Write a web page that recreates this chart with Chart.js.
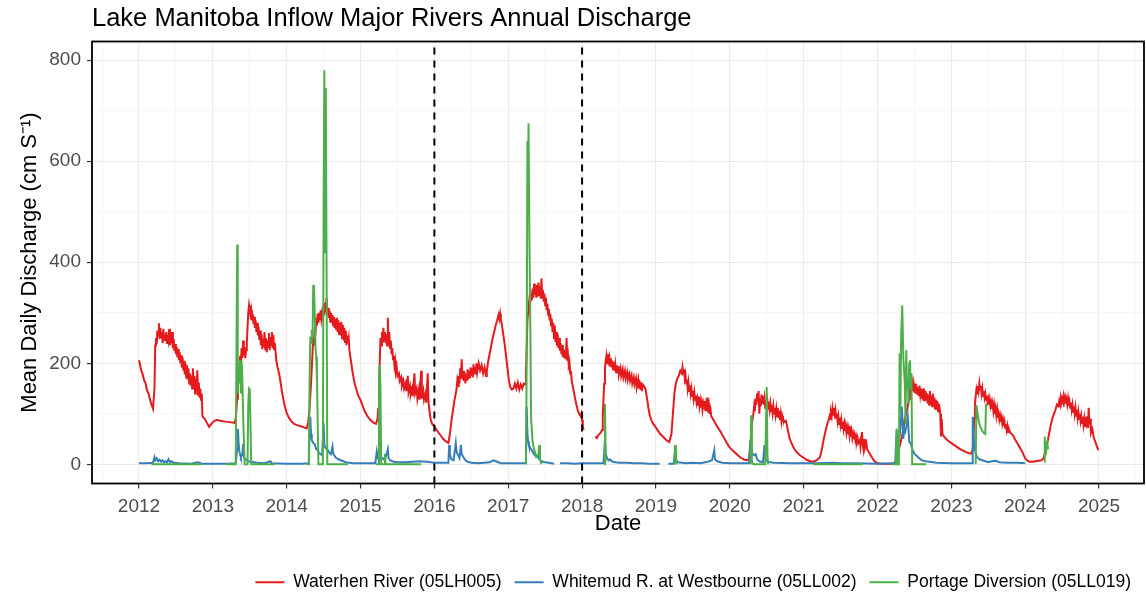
<!DOCTYPE html>
<html>
<head>
<meta charset="utf-8">
<title>Lake Manitoba Inflow Major Rivers Annual Discharge</title>
<script src="https://cdn.jsdelivr.net/npm/chart.js@4.4.1/dist/chart.umd.min.js"></script>
<style>
  html, body { margin: 0; padding: 0; background: #ffffff; }
  #wrap { width: 1146px; height: 595px; }
</style>
</head>
<body>
<div id="wrap"><canvas id="chart" width="1146" height="595"></canvas></div>
<script>
// Mean daily discharge, [decimal year, value]; null marks missing records.
const waterhen = [
  [2012.00,206],[2012.01,200],[2012.03,186],[2012.05,178],[2012.07,166],[2012.09,160],[2012.11,146],[2012.13,140],[2012.15,128],[2012.17,118],[2012.19,110],[2012.21,150],[2012.22,235],[2012.23,250],[2012.24,238],[2012.25,265],[2012.26,255],[2012.27,279],[2012.28,248],[2012.29,270],[2012.30,252],[2012.31,262],[2012.32,240],[2012.33,268],[2012.34,246],[2012.35,258],[2012.36,244],[2012.37,262],[2012.38,240],[2012.39,256],[2012.40,246],[2012.41,268],[2012.42,236],[2012.43,252],[2012.44,240],[2012.45,262],[2012.46,230],[2012.47,248],[2012.48,224],[2012.49,238],[2012.50,218],[2012.51,232],[2012.52,212],[2012.53,228],[2012.54,206],[2012.55,222],[2012.56,200],[2012.57,216],[2012.58,192],[2012.59,212],[2012.60,186],[2012.61,205],[2012.62,178],[2012.63,200],[2012.64,172],[2012.65,196],[2012.66,168],[2012.67,190],[2012.68,160],[2012.69,180],[2012.70,156],[2012.71,176],[2012.72,150],[2012.73,190],[2012.74,148],[2012.75,175],[2012.76,140],[2012.77,170],[2012.78,145],[2012.79,186],[2012.80,138],[2012.81,162],[2012.82,132],[2012.83,150],[2012.84,128],[2012.85,140],[2012.86,95],[2012.89,90],[2012.92,82],[2012.95,74],[2012.98,80],[2013.02,86],[2013.06,88],[2013.10,86],[2013.15,85],[2013.20,84],[2013.25,83],[2013.29,82],
  [2013.31,90],[2013.33,130],[2013.34,170],[2013.35,200],[2013.36,185],[2013.37,215],[2013.38,200],[2013.39,230],[2013.40,210],[2013.41,245],[2013.42,215],[2013.43,232],[2013.44,210],[2013.45,226],[2013.46,240],[2013.47,270],[2013.48,300],[2013.49,315],[2013.50,305],[2013.51,296],[2013.52,305],[2013.53,285],[2013.54,298],[2013.55,278],[2013.56,292],[2013.57,270],[2013.58,285],[2013.59,262],[2013.60,280],[2013.61,255],[2013.62,272],[2013.63,246],[2013.64,265],[2013.65,236],[2013.66,258],[2013.67,228],[2013.68,248],[2013.69,232],[2013.70,262],[2013.71,228],[2013.72,250],[2013.73,222],[2013.74,246],[2013.75,232],[2013.76,260],[2013.77,226],[2013.78,252],[2013.79,236],[2013.80,262],[2013.81,230],[2013.82,256],[2013.83,228],[2013.84,240],[2013.86,205],[2013.88,190],[2013.90,178],[2013.92,160],[2013.94,140],[2013.96,125],[2013.98,112],[2014.00,102],[2014.03,92],[2014.06,86],[2014.10,80],[2014.15,77],[2014.20,75],[2014.25,72],[2014.27,71],
  [2014.29,82],[2014.31,110],[2014.33,160],[2014.35,220],[2014.36,250],[2014.37,235],[2014.38,270],[2014.39,255],[2014.40,290],[2014.41,275],[2014.42,298],[2014.43,280],[2014.44,300],[2014.45,285],[2014.46,305],[2014.47,288],[2014.48,300],[2014.49,285],[2014.50,310],[2014.51,295],[2014.52,320],[2014.53,300],[2014.54,329],[2014.55,295],[2014.56,310],[2014.57,290],[2014.58,305],[2014.59,282],[2014.60,300],[2014.61,280],[2014.62,296],[2014.63,275],[2014.64,292],[2014.65,270],[2014.66,288],[2014.67,268],[2014.68,290],[2014.69,262],[2014.70,285],[2014.71,258],[2014.72,280],[2014.73,255],[2014.74,282],[2014.75,250],[2014.76,276],[2014.77,245],[2014.78,270],[2014.79,242],[2014.80,265],[2014.81,236],[2014.82,255],[2014.83,240],[2014.84,250],[2014.85,225],[2014.87,205],[2014.89,185],[2014.91,168],[2014.93,155],[2014.95,145],[2014.97,136],[2015.00,127],[2015.03,115],[2015.06,104],[2015.09,96],[2015.13,88],[2015.17,83],[2015.21,80],
  [2015.23,90],[2015.24,110],[2015.25,150],[2015.26,200],[2015.27,250],[2015.28,235],[2015.29,262],[2015.30,240],[2015.31,270],[2015.32,245],[2015.33,262],[2015.34,240],[2015.35,258],[2015.36,235],[2015.37,290],[2015.38,240],[2015.39,262],[2015.40,230],[2015.41,245],[2015.42,218],[2015.43,230],[2015.44,208],[2015.45,215],[2015.46,195],[2015.47,205],[2015.48,185],[2015.49,192],[2015.50,175],[2015.52,180],[2015.53,165],[2015.55,172],[2015.56,155],[2015.58,165],[2015.59,150],[2015.61,160],[2015.62,145],[2015.64,175],[2015.65,142],[2015.67,155],[2015.68,138],[2015.70,150],[2015.71,135],[2015.73,180],[2015.74,140],[2015.76,150],[2015.77,130],[2015.79,148],[2015.80,128],[2015.82,185],[2015.83,130],[2015.85,145],[2015.86,128],[2015.88,140],[2015.89,122],[2015.91,180],[2015.92,125],[2015.93,110],[2015.95,88],[2015.97,80],[2016.00,75],[2016.03,68],[2016.06,62],[2016.09,56],[2016.12,50],[2016.15,46],[2016.19,42],
  [2016.21,60],[2016.23,85],[2016.25,105],[2016.27,125],[2016.29,140],[2016.30,148],[2016.31,165],[2016.32,155],[2016.33,175],[2016.34,160],[2016.35,190],[2016.36,170],[2016.37,208],[2016.38,168],[2016.39,185],[2016.40,165],[2016.41,182],[2016.42,160],[2016.43,178],[2016.44,165],[2016.45,188],[2016.46,168],[2016.47,185],[2016.48,170],[2016.49,192],[2016.50,175],[2016.51,190],[2016.52,172],[2016.53,198],[2016.54,180],[2016.55,192],[2016.56,178],[2016.57,200],[2016.58,182],[2016.60,200],[2016.62,186],[2016.64,196],[2016.66,180],[2016.68,192],[2016.70,175],[2016.71,185],[2016.73,205],[2016.75,220],[2016.77,235],[2016.79,250],[2016.81,262],[2016.83,275],[2016.85,285],[2016.87,296],[2016.88,288],[2016.89,298],[2016.90,286],[2016.91,280],[2016.93,260],[2016.95,240],[2016.97,215],[2016.99,190],[2017.01,165],[2017.03,152],[2017.05,148],[2017.07,150],[2017.09,160],[2017.11,150],[2017.13,162],[2017.15,148],[2017.17,158],[2017.19,150],[2017.21,160],[2017.23,158],[2017.24,180],
  [2017.25,230],[2017.26,285],[2017.27,300],[2017.28,318],[2017.29,332],[2017.30,320],[2017.31,340],[2017.32,325],[2017.33,348],[2017.34,330],[2017.35,358],[2017.36,336],[2017.37,350],[2017.38,330],[2017.39,355],[2017.40,332],[2017.41,360],[2017.42,335],[2017.43,352],[2017.44,328],[2017.45,368],[2017.46,330],[2017.47,345],[2017.48,322],[2017.49,338],[2017.50,315],[2017.51,330],[2017.52,305],[2017.53,318],[2017.54,296],[2017.55,308],[2017.56,285],[2017.57,298],[2017.58,275],[2017.59,288],[2017.60,262],[2017.61,280],[2017.62,250],[2017.63,275],[2017.64,242],[2017.65,262],[2017.66,235],[2017.67,258],[2017.68,230],[2017.69,250],[2017.70,225],[2017.71,240],[2017.72,218],[2017.73,236],[2017.74,212],[2017.75,228],[2017.76,210],[2017.77,225],[2017.78,208],[2017.79,250],[2017.80,205],[2017.81,215],[2017.82,195],[2017.83,200],[2017.84,180],[2017.85,185],[2017.86,165],[2017.88,150],[2017.90,135],[2017.92,120],[2017.94,108],[2017.96,100],[2017.98,95],[2017.99,100],[2018.00,88],[2018.01,75],[2018.02,68],[2018.10,null],
  [2018.18,55],[2018.20,52],[2018.22,58],[2018.25,62],[2018.27,68],[2018.28,95],[2018.29,130],[2018.30,160],[2018.31,190],[2018.32,205],[2018.33,215],[2018.34,200],[2018.35,218],[2018.36,205],[2018.37,212],[2018.38,195],[2018.39,210],[2018.40,192],[2018.41,205],[2018.42,188],[2018.43,202],[2018.44,185],[2018.45,198],[2018.46,182],[2018.47,196],[2018.48,180],[2018.49,194],[2018.50,178],[2018.52,190],[2018.53,175],[2018.55,188],[2018.56,172],[2018.58,185],[2018.59,170],[2018.61,182],[2018.62,168],[2018.64,178],[2018.65,165],[2018.67,176],[2018.68,160],[2018.70,172],[2018.71,158],[2018.73,170],[2018.74,152],[2018.76,168],[2018.77,150],[2018.78,165],[2018.79,148],[2018.80,162],[2018.81,145],[2018.82,158],[2018.84,155],[2018.86,148],[2018.88,130],[2018.90,110],[2018.92,95],[2018.94,87],[2018.96,81],[2018.99,75],[2019.02,68],[2019.06,60],[2019.10,54],[2019.14,48],[2019.18,44],
  [2019.21,60],[2019.23,100],[2019.25,140],[2019.27,160],[2019.29,170],[2019.31,175],[2019.33,185],[2019.35,180],[2019.36,192],[2019.37,180],[2019.38,188],[2019.39,170],[2019.40,178],[2019.41,160],[2019.42,168],[2019.43,150],[2019.44,162],[2019.45,145],[2019.46,156],[2019.47,140],[2019.48,150],[2019.49,135],[2019.50,145],[2019.51,130],[2019.52,142],[2019.53,128],[2019.54,136],[2019.55,122],[2019.56,130],[2019.57,118],[2019.58,134],[2019.59,115],[2019.60,125],[2019.61,112],[2019.62,122],[2019.63,108],[2019.64,120],[2019.65,110],[2019.66,125],[2019.67,105],[2019.68,118],[2019.69,106],[2019.70,132],[2019.71,102],[2019.72,115],[2019.73,100],[2019.74,108],[2019.75,95],[2019.77,90],[2019.79,85],[2019.81,80],[2019.83,75],[2019.85,70],[2019.87,66],[2019.90,58],[2019.93,50],[2019.96,42],[2019.99,35],[2020.02,30],[2020.05,26],[2020.08,22],[2020.11,18],[2020.14,14],[2020.17,11],[2020.20,9],[2020.23,8],[2020.26,10],[2020.28,40],[2020.30,80],[2020.32,100],
  [2020.33,115],[2020.34,105],[2020.35,130],[2020.36,118],[2020.37,140],[2020.38,125],[2020.39,145],[2020.40,100],[2020.41,130],[2020.42,115],[2020.43,138],[2020.44,120],[2020.45,135],[2020.46,118],[2020.47,130],[2020.48,112],[2020.49,128],[2020.50,115],[2020.51,125],[2020.52,110],[2020.53,124],[2020.54,108],[2020.55,120],[2020.56,105],[2020.57,118],[2020.58,102],[2020.59,115],[2020.60,100],[2020.61,112],[2020.62,98],[2020.63,110],[2020.64,95],[2020.65,112],[2020.66,92],[2020.67,106],[2020.68,88],[2020.69,100],[2020.70,85],[2020.71,96],[2020.72,90],[2020.74,84],[2020.76,86],[2020.77,80],[2020.79,65],[2020.81,52],[2020.83,44],[2020.86,34],[2020.90,25],[2020.95,18],[2020.99,14],[2021.04,9],[2021.09,6],[2021.13,5],[2021.18,8],[2021.22,14],
  [2021.24,25],[2021.26,40],[2021.28,55],[2021.30,68],[2021.32,80],[2021.34,88],[2021.35,95],[2021.36,90],[2021.37,102],[2021.38,95],[2021.39,110],[2021.40,98],[2021.41,112],[2021.42,100],[2021.43,108],[2021.44,92],[2021.45,100],[2021.46,85],[2021.47,95],[2021.48,80],[2021.49,92],[2021.50,78],[2021.51,88],[2021.52,72],[2021.53,84],[2021.54,70],[2021.55,80],[2021.56,66],[2021.57,76],[2021.58,62],[2021.59,72],[2021.60,60],[2021.61,70],[2021.62,58],[2021.63,75],[2021.64,55],[2021.65,65],[2021.66,52],[2021.67,60],[2021.68,50],[2021.69,58],[2021.70,48],[2021.71,55],[2021.72,45],[2021.73,52],[2021.74,42],[2021.76,48],[2021.77,35],[2021.79,64],[2021.80,40],[2021.81,30],[2021.82,50],[2021.83,32],[2021.85,42],[2021.86,30],[2021.88,25],[2021.90,20],[2021.92,15],[2021.94,10],[2021.96,6],[2021.99,3],[2022.03,1],[2022.08,1],[2022.13,1],[2022.18,1],[2022.22,1],[2022.25,5],[2022.27,15],[2022.29,30],
  [2022.31,41],[2022.33,54],[2022.35,70],[2022.37,90],[2022.39,100],[2022.41,115],[2022.43,130],[2022.44,140],[2022.45,165],[2022.46,150],[2022.47,160],[2022.48,145],[2022.49,158],[2022.50,142],[2022.51,160],[2022.52,140],[2022.53,155],[2022.54,138],[2022.55,152],[2022.56,135],[2022.57,156],[2022.58,138],[2022.59,150],[2022.60,130],[2022.61,148],[2022.62,128],[2022.63,150],[2022.64,125],[2022.65,145],[2022.66,128],[2022.67,140],[2022.68,120],[2022.69,138],[2022.70,118],[2022.71,145],[2022.72,120],[2022.73,136],[2022.74,115],[2022.75,140],[2022.76,118],[2022.77,132],[2022.78,110],[2022.79,128],[2022.80,108],[2022.81,125],[2022.82,105],[2022.83,120],[2022.84,112],[2022.85,100],[2022.86,55],[2022.87,90],[2022.88,60],[2022.90,55],[2022.93,50],[2022.96,46],[2023.00,42],[2023.04,38],[2023.08,34],[2023.12,30],[2023.16,27],[2023.20,24],[2023.24,22],[2023.27,21],[2023.29,30],
  [2023.30,54],[2023.31,90],[2023.32,120],[2023.33,135],[2023.34,148],[2023.35,140],[2023.36,155],[2023.37,145],[2023.38,160],[2023.39,148],[2023.40,155],[2023.41,140],[2023.42,150],[2023.43,135],[2023.44,145],[2023.45,132],[2023.46,140],[2023.47,128],[2023.48,136],[2023.49,124],[2023.50,130],[2023.51,118],[2023.52,128],[2023.53,115],[2023.54,122],[2023.55,110],[2023.56,120],[2023.57,105],[2023.58,116],[2023.59,100],[2023.60,110],[2023.61,96],[2023.62,108],[2023.63,92],[2023.64,100],[2023.65,88],[2023.66,96],[2023.67,84],[2023.68,92],[2023.69,80],[2023.70,88],[2023.71,76],[2023.72,84],[2023.73,72],[2023.74,80],[2023.75,68],[2023.76,76],[2023.77,64],[2023.78,70],[2023.80,62],[2023.82,60],[2023.84,56],[2023.86,50],[2023.88,45],[2023.90,40],[2023.92,35],[2023.94,30],[2023.96,25],[2023.98,18],[2024.00,12],[2024.03,7],[2024.06,5],[2024.10,5],[2024.14,6],[2024.18,7],[2024.22,8],[2024.25,12],[2024.27,25],
  [2024.29,34],[2024.31,50],[2024.33,65],[2024.35,80],[2024.37,92],[2024.39,100],[2024.41,108],[2024.43,118],[2024.45,115],[2024.46,125],[2024.47,120],[2024.48,132],[2024.49,122],[2024.50,130],[2024.51,125],[2024.52,135],[2024.53,124],[2024.54,132],[2024.55,120],[2024.56,128],[2024.57,118],[2024.58,130],[2024.59,116],[2024.60,124],[2024.61,112],[2024.62,122],[2024.63,108],[2024.64,118],[2024.65,104],[2024.66,115],[2024.67,100],[2024.68,112],[2024.69,96],[2024.70,108],[2024.71,92],[2024.72,104],[2024.73,90],[2024.74,100],[2024.75,86],[2024.76,96],[2024.77,82],[2024.78,94],[2024.79,78],[2024.80,90],[2024.81,74],[2024.82,86],[2024.83,80],[2024.84,95],[2024.85,72],[2024.86,112],[2024.87,80],[2024.88,90],[2024.89,62],[2024.91,70],[2024.93,52],[2024.95,45],[2024.97,36],[2024.99,28]
];

const whitemud = [
  [2012.00,2],[2012.10,2],[2012.19,3],[2012.21,14],[2012.22,8],[2012.24,12],[2012.26,6],[2012.28,9],[2012.30,5],[2012.32,8],[2012.34,4],[2012.36,6],[2012.38,4],[2012.40,10],[2012.42,4],[2012.44,6],[2012.47,3],[2012.55,2],[2012.70,1],[2012.80,4],[2012.85,1],[2013.00,1],[2013.20,1],[2013.31,2],
  [2013.33,30],[2013.34,70],[2013.35,40],[2013.36,25],[2013.37,20],[2013.38,14],[2013.40,20],[2013.41,40],[2013.42,15],[2013.44,10],[2013.46,8],[2013.48,6],[2013.52,5],[2013.60,3],[2013.70,2],[2013.78,6],[2013.80,2],[2014.00,1],[2014.20,1],[2014.30,2],
  [2014.31,60],[2014.32,94],[2014.33,60],[2014.34,48],[2014.36,42],[2014.38,40],[2014.40,30],[2014.42,28],[2014.44,22],[2014.46,20],[2014.48,18],[2014.50,81],[2014.51,40],[2014.52,34],[2014.54,30],[2014.56,28],[2014.58,22],[2014.60,20],[2014.62,35],[2014.63,22],[2014.66,14],[2014.70,10],[2014.75,7],[2014.80,4],[2014.90,2],[2015.10,2],[2015.20,2],
  [2015.22,25],[2015.23,15],[2015.25,22],[2015.27,10],[2015.30,12],[2015.33,8],[2015.37,30],[2015.38,12],[2015.40,8],[2015.45,5],[2015.50,4],[2015.60,4],[2015.70,5],[2015.80,6],[2015.90,5],[2016.00,3],[2016.10,3],[2016.19,3],
  [2016.20,38],[2016.21,20],[2016.23,10],[2016.26,8],[2016.29,42],[2016.30,25],[2016.32,18],[2016.34,12],[2016.36,38],[2016.37,20],[2016.39,15],[2016.42,8],[2016.45,5],[2016.50,3],[2016.60,2],[2016.75,4],[2016.80,8],[2016.85,5],[2016.90,2],[2017.00,2],[2017.10,2],[2017.20,2],[2017.24,2],
  [2017.25,114],[2017.26,60],[2017.27,45],[2017.28,38],[2017.30,32],[2017.32,28],[2017.34,22],[2017.36,18],[2017.38,15],[2017.40,16],[2017.42,10],[2017.45,6],[2017.50,4],[2017.55,3],[2017.62,1],[2017.66,null],[2017.70,2],[2017.80,2],[2017.90,1],[2018.00,2],[2018.10,2],[2018.20,2],[2018.29,2],
  [2018.31,48],[2018.32,20],[2018.34,12],[2018.36,8],[2018.38,10],[2018.40,6],[2018.45,4],[2018.50,3],[2018.60,3],[2018.70,2],[2018.80,2],[2018.90,1],[2019.05,1],[2019.10,null],[2019.17,1],[2019.24,1],
  [2019.26,28],[2019.27,10],[2019.30,4],[2019.40,2],[2019.50,3],[2019.60,2],[2019.70,5],[2019.76,8],[2019.79,28],[2019.80,10],[2019.83,6],[2019.90,3],[2020.00,2],[2020.10,2],[2020.20,2],[2020.26,2],
  [2020.28,48],[2020.29,25],[2020.31,21],[2020.33,18],[2020.35,20],[2020.37,10],[2020.40,6],[2020.45,4],[2020.47,38],[2020.48,12],[2020.50,6],[2020.55,4],[2020.60,3],[2020.80,2],[2021.00,2],[2021.20,2],[2021.40,3],[2021.50,2],[2021.70,2],[2022.00,1],[2022.20,2],[2022.24,3],
  [2022.26,67],[2022.27,30],[2022.29,45],[2022.31,70],[2022.33,114],[2022.34,85],[2022.35,50],[2022.36,70],[2022.37,60],[2022.39,75],[2022.41,94],[2022.42,70],[2022.43,45],[2022.45,41],[2022.47,30],[2022.50,21],[2022.55,14],[2022.60,8],[2022.65,6],[2022.70,5],[2022.80,3],[2023.00,2],[2023.20,2],[2023.28,2],
  [2023.29,94],[2023.30,60],[2023.31,34],[2023.33,22],[2023.35,14],[2023.38,10],[2023.42,8],[2023.50,4],[2023.55,6],[2023.60,7],[2023.65,4],[2023.75,3],[2023.90,3],[2024.00,2]
];

const portage = [
  [2012.17,0],[2012.85,0],[2012.90,null],
  [2013.18,0],[2013.31,0],[2013.32,220],[2013.33,435],[2013.335,300],[2013.34,140],[2013.35,200],[2013.36,160],[2013.37,206],[2013.38,140],[2013.39,205],[2013.40,170],[2013.41,100],[2013.43,0],[2013.47,0],[2013.48,120],[2013.49,150],[2013.50,148],[2013.51,80],[2013.52,0],[2013.84,0],[2013.90,null],
  [2014.27,0],[2014.30,0],[2014.31,160],[2014.32,253],[2014.33,240],[2014.34,266],[2014.35,250],[2014.36,355],[2014.37,345],[2014.38,300],[2014.39,233],[2014.40,213],[2014.41,170],[2014.43,0],[2014.49,0],[2014.50,500],[2014.51,780],[2014.52,420],[2014.53,745],[2014.54,400],[2014.55,0],[2014.83,0],[2014.90,null],
  [2015.21,0],[2015.24,0],[2015.25,173],[2015.26,197],[2015.27,150],[2015.28,0],[2015.32,0],[2015.33,21],[2015.34,0],[2015.82,0],[2015.90,null],
  [2017.24,0],[2017.25,200],[2017.26,640],[2017.265,511],[2017.275,675],[2017.285,480],[2017.30,260],[2017.31,90],[2017.33,45],[2017.35,30],[2017.38,15],[2017.41,20],[2017.42,38],[2017.43,10],[2017.45,0],[2017.50,null],
  [2018.30,0],[2018.31,120],[2018.32,5],[2018.40,null],
  [2019.25,0],[2019.26,38],[2019.27,10],[2019.28,0],[2019.40,null],
  [2020.28,0],[2020.29,97],[2020.30,5],[2020.32,0],[2020.48,0],[2020.50,153],[2020.51,20],[2020.52,0],[2020.60,null],
  [2021.13,0],[2021.80,0],[2021.90,null],
  [2022.20,0],[2022.25,0],[2022.26,71],[2022.27,0],[2022.29,0],[2022.30,220],[2022.31,100],[2022.32,250],[2022.335,315],[2022.35,213],[2022.37,160],[2022.38,80],[2022.39,226],[2022.40,150],[2022.41,170],[2022.42,120],[2022.43,200],[2022.44,206],[2022.45,150],[2022.46,180],[2022.47,0],[2022.66,0],[2022.80,null],
  [2023.33,0],[2023.34,117],[2023.36,95],[2023.38,80],[2023.40,72],[2023.42,66],[2023.44,62],[2023.46,60],[2023.47,120],[2023.60,null],
  [2024.26,5],[2024.265,55],[2024.27,25],[2024.28,45],[2024.29,30],[2024.30,40],[2024.31,30]
];

// Reference years marked with dashed vertical lines
const markerYears = [2016, 2018];

// Axis ranges and tick labels
const xRange = [2011.364, 2025.609];
const yRange = [-38, 837];
const yearLabels = [2012, 2013, 2014, 2015, 2016, 2017, 2018, 2019, 2020, 2021, 2022, 2023, 2024, 2025];
const flowLabels = [0, 200, 400, 600, 800];

const seriesNames = ['Waterhen River (05LH005)', 'Whitemud R. at Westbourne (05LL002)', 'Portage Diversion (05LL019)'];
const seriesColors = ['#E41A1C', '#377EB8', '#4DAF4A'];

const FONT = '"Liberation Sans", Arial, Helvetica, sans-serif';
const toPoints = rows => rows.map(([x, y]) => ({ x, y }));
const isLabelledYear = v => yearLabels.some(y => Math.abs(y - v) < 1e-6);
const isLabelledFlow = v => flowLabels.some(y => Math.abs(y - v) < 1e-6);

const seriesData = [waterhen, whitemud, portage];
const datasets = seriesData.map((rows, i) => ({
  label: seriesNames[i],
  data: toPoints(rows),
  borderColor: seriesColors[i],
  backgroundColor: seriesColors[i],
  borderWidth: 2,
  pointRadius: 0,
  tension: 0,
  spanGaps: false,
  order: 3 - i
}));
markerYears.forEach(yr => {
  datasets.push({
    label: 'marker ' + yr,
    data: [{ x: yr, y: yRange[0] }, { x: yr, y: yRange[1] }],
    borderColor: '#000000',
    borderWidth: 2,
    borderDash: [7, 6],
    pointRadius: 0,
    order: 0
  });
});

// Plot title, left-aligned with the panel
const titlePlugin = {
  id: 'panelTitle',
  afterDraw(chart) {
    const ctx = chart.ctx;
    ctx.save();
    ctx.font = '25.5px ' + FONT;
    ctx.fillStyle = '#000000';
    ctx.textAlign = 'left';
    ctx.textBaseline = 'alphabetic';
    ctx.fillText('Lake Manitoba Inflow Major Rivers Annual Discharge', chart.chartArea.left, 26);
    ctx.restore();
  }
};

// Black frame around the plotting panel
const framePlugin = {
  id: 'panelFrame',
  afterDatasetsDraw(chart) {
    const { left, top, right, bottom } = chart.chartArea;
    const ctx = chart.ctx;
    ctx.save();
    ctx.strokeStyle = '#000000';
    ctx.lineWidth = 1.8;
    ctx.strokeRect(left, top, right - left, bottom - top);
    ctx.restore();
  }
};

new Chart(document.getElementById('chart'), {
  type: 'line',
  data: { datasets },
  options: {
    responsive: false,
    animation: false,
    events: [],
    layout: { padding: { top: 41.5, right: 2, bottom: -6, left: 0 } },
    plugins: {
      tooltip: { enabled: false },
      title: { display: false },
      legend: {
        position: 'bottom',
        align: 'end',
        labels: {
          filter: item => item.datasetIndex < 3,
          sort: (a, b) => a.datasetIndex - b.datasetIndex,
          usePointStyle: true,
          pointStyle: 'line',
          pointStyleWidth: 29,
          padding: 13,
          color: '#000000',
          font: { family: FONT, size: 17.5 }
        }
      }
    },
    scales: {
      x: {
        type: 'linear',
        min: xRange[0],
        max: xRange[1],
        afterFit: s => { s.height = 77; },
        border: { display: false },
        grid: {
          color: c => isLabelledYear(c.tick.value) ? '#EBEBEB' : '#F4F4F4',
          lineWidth: c => isLabelledYear(c.tick.value) ? 1.1 : 0.7,
          tickColor: c => isLabelledYear(c.tick.value) ? '#333333' : 'rgba(0,0,0,0)',
          tickLength: 5,
          tickWidth: 1.2
        },
        ticks: {
          stepSize: 0.5,
          includeBounds: false,
          autoSkip: false,
          maxRotation: 0,
          padding: 7,
          color: '#4D4D4D',
          font: { family: FONT, size: 19 },
          callback: v => isLabelledYear(v) ? String(Math.round(v)) : ''
        },
        title: {
          display: true,
          text: 'Date',
          color: '#000000',
          font: { family: FONT, size: 22 },
          padding: { top: 0, bottom: 23.7 }
        }
      },
      y: {
        type: 'linear',
        min: yRange[0],
        max: yRange[1],
        afterFit: s => { s.width = 92; },
        border: { display: false },
        grid: {
          color: c => isLabelledFlow(c.tick.value) ? '#EBEBEB' : '#F4F4F4',
          lineWidth: c => isLabelledFlow(c.tick.value) ? 1.1 : 0.7,
          tickColor: c => isLabelledFlow(c.tick.value) ? '#333333' : 'rgba(0,0,0,0)',
          tickLength: 5,
          tickWidth: 1.2
        },
        ticks: {
          stepSize: 100,
          includeBounds: false,
          autoSkip: false,
          padding: 6,
          color: '#4D4D4D',
          font: { family: FONT, size: 19 },
          callback: v => isLabelledFlow(v) ? String(Math.round(v)) : ''
        },
        title: {
          display: true,
          text: 'Mean Daily Discharge (cm S\u207B\u00B9)',
          color: '#000000',
          font: { family: FONT, size: 22 },
          padding: { top: 16.5, bottom: 0 }
        }
      }
    }
  },
  plugins: [titlePlugin, framePlugin]
});
</script>
</body>
</html>
